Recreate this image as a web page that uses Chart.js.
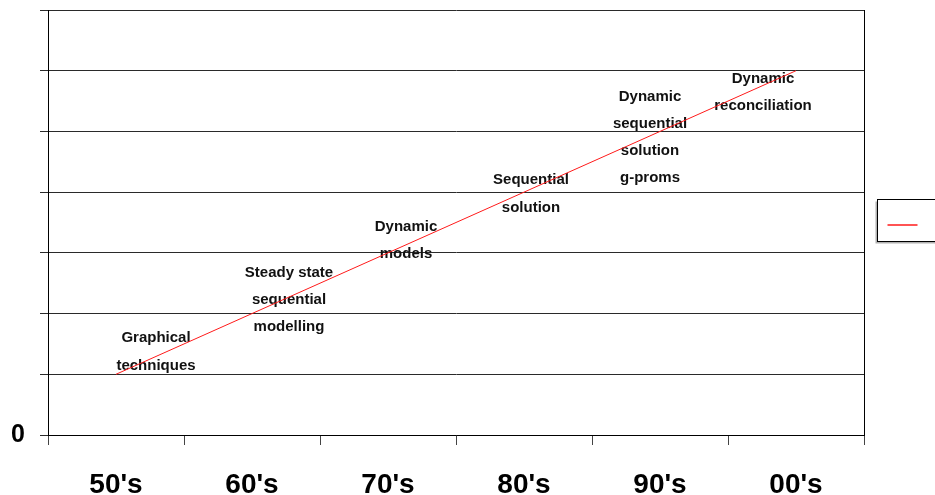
<!DOCTYPE html>
<html>
<head>
<meta charset="utf-8">
<script src="https://cdn.jsdelivr.net/npm/chart.js@4/dist/chart.umd.min.js"></script>
<style>
  html, body { margin: 0; padding: 0; background: #fff; }
  #wrap { width: 935px; height: 495px; }
</style>
</head>
<body>
<div id="wrap"><canvas id="c" width="935" height="495"></canvas></div>
<script>
// Decades along the bottom axis
const decades = ["50's", "60's", "70's", "80's", "90's", "00's"];
// Level reached in each decade
const progress = [1, 2, 3, 4, 5, 6];
// Only the origin carries a label on the vertical axis
const yTickLabels = ["0"];
// Milestone captions, one per decade
const milestones = [
  ["Graphical", "techniques"],
  ["Steady state", "sequential", "modelling"],
  ["Dynamic", "models"],
  ["Sequential", "solution"],
  ["Dynamic", "sequential", "solution", "g-proms"],
  ["Dynamic", "reconciliation"]
];

const FONT = "'Liberation Sans', Arial, sans-serif";
const LINE_RED = '#ff1a1a';

// Captions placed beside each point of the line
const captionPlugin = {
  id: 'captions',
  beforeDatasetsDraw(chart, args, opts) {
    const meta = chart.getDatasetMeta(0);
    const ctx = chart.ctx;
    ctx.save();
    ctx.font = 'bold 15px ' + FONT;
    ctx.fillStyle = '#111';
    ctx.textAlign = 'center';
    ctx.textBaseline = 'middle';
    milestones.forEach((lines, i) => {
      const pt = meta.data[i];
      const off = opts.offsets[i];
      lines.forEach((t, k) => {
        ctx.fillText(t, pt.x + off[0], pt.y + off[1] + k * opts.lineGap);
      });
    });
    ctx.restore();
  }
};

// Boxed legend key at the right edge
const keyPlugin = {
  id: 'keyBox',
  afterDraw(chart) {
    const ctx = chart.ctx;
    const a = chart.chartArea;
    const x = Math.round(a.right + 13) + 0.5;
    const y = 199.5;
    const w = 70, h = 42;
    ctx.save();
    // soft shadow
    ctx.strokeStyle = '#b0b0b0';
    ctx.lineWidth = 2;
    ctx.beginPath();
    ctx.moveTo(x - 1, y + 2);
    ctx.lineTo(x - 1, y + h + 1);
    ctx.lineTo(x + w, y + h + 1);
    ctx.stroke();
    ctx.strokeStyle = '#000';
    ctx.lineWidth = 1;
    ctx.strokeRect(x, y, w, h);
    ctx.strokeStyle = LINE_RED;
    ctx.lineWidth = 1.5;
    ctx.beginPath();
    ctx.moveTo(x + 10, 225);
    ctx.lineTo(x + 40, 225);
    ctx.stroke();
    ctx.restore();
  }
};

new Chart(document.getElementById('c'), {
  type: 'line',
  data: {
    labels: decades,
    datasets: [{
      label: '',
      data: progress,
      borderColor: LINE_RED,
      borderWidth: 1,
      pointRadius: 0,
      tension: 0,
      fill: false
    }]
  },
  options: {
    responsive: false,
    animation: false,
    layout: { padding: { top: 10, right: 71, left: 0, bottom: 0 } },
    plugins: {
      legend: { display: false },
      tooltip: { enabled: false },
      captions: {
        lineGap: 27.3,
        offsets: [[40, -36], [37, -41], [18, -26], [7, -12], [-10, -35], [-33, 8]]
      }
    },
    scales: {
      x: {
        type: 'category',
        offset: true,
        grid: {
          offset: true,
          drawOnChartArea: true,
          color: c => (c.type === 'tick' && c.index > 0) ? 'rgba(0,0,0,0)' : '#000',
          tickColor: '#444',
          tickLength: 10,
          lineWidth: 1
        },
        border: { color: '#000', width: 1 },
        ticks: {
          color: '#000',
          padding: 23,
          maxRotation: 0,
          font: { family: FONT, size: 28, weight: 'bold' }
        },
        afterFit: s => { s.height = 60; s.paddingLeft = 0; s.paddingRight = 0; }
      },
      y: {
        min: 0,
        max: 7,
        ticks: {
          stepSize: 1,
          color: '#000',
          padding: 15,
          font: { family: FONT, size: 25, weight: 'bold' },
          callback: v => (v === 0 ? yTickLabels[0] : '')
        },
        grid: {
          color: '#2a2a2a',
          tickColor: '#2a2a2a',
          tickLength: 8,
          lineWidth: 1
        },
        border: { color: '#000', width: 1 },
        afterFit: s => { s.width = 48; s.paddingTop = 0; s.paddingBottom = 0; }
      }
    }
  },
  plugins: [captionPlugin, keyPlugin]
});
</script>
</body>
</html>
